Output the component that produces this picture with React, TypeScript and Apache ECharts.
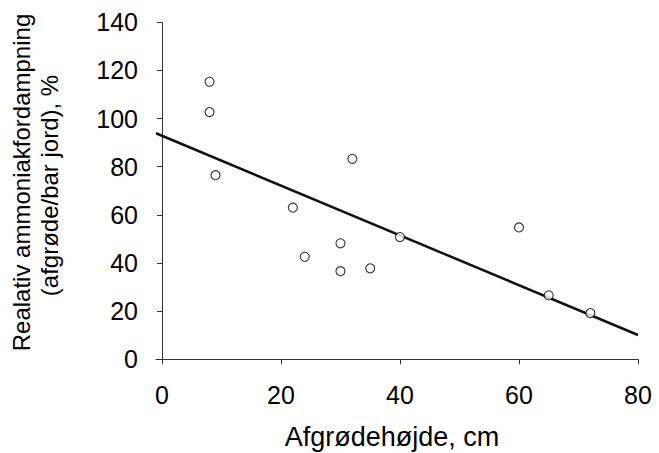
import React, { useEffect, useRef } from "react";
import * as echarts from "echarts";

// Measured points: crop height (cm) vs relative ammonia volatilisation (%)
const cropHeight = [8, 8, 9, 22, 24, 30, 30, 32, 35, 40, 60, 65, 72];
const relativeLoss = [115.3, 102.7, 76.5, 63.0, 42.6, 48.2, 36.6, 83.3, 37.8, 50.8, 54.8, 26.6, 19.2];

// Regression line end points
const trendX = [-1, 80];
const trendY = [93.9, 10.1];

const xTicks = [0, 20, 40, 60, 80];

const xTitle = "Afgrødehøjde, cm";
const yTitleLine1 = "Realativ ammoniakfordampning";
const yTitleLine2 = "(afgrøde/bar jord), %";

export default function App() {
  const ref = useRef<HTMLDivElement>(null);

  useEffect(() => {
    if (!ref.current) return;
    const chart = echarts.init(ref.current, undefined, { renderer: "svg" });
    const font = "'Liberation Sans', Arial, sans-serif";
    const axisColor = "#333";

    chart.setOption({
      animation: false,
      backgroundColor: "#fff",
      grid: { left: 156, right: 21, top: 22.3, bottom: 93.7, containLabel: false },
      xAxis: {
        type: "value",
        min: -1,
        max: 80,
        axisLine: { show: true, onZero: false, lineStyle: { color: axisColor, width: 1 } },
        axisTick: { show: true, length: 5, customValues: xTicks, lineStyle: { color: axisColor } },
        axisLabel: {
          customValues: xTicks,
          margin: 23,
          fontSize: 25,
          color: "#000",
          fontFamily: font,
        },
        splitLine: { show: false },
      },
      yAxis: {
        type: "value",
        min: 0,
        max: 140,
        interval: 20,
        axisLine: { show: true, lineStyle: { color: axisColor, width: 1 } },
        axisTick: { show: true, length: 5, lineStyle: { color: axisColor } },
        axisLabel: { margin: 18, fontSize: 25, color: "#000", fontFamily: font },
        splitLine: { show: false },
      },
      graphic: [
        {
          type: "text",
          x: 392,
          y: 437,
          style: {
            text: xTitle,
            fontSize: 27,
            fontFamily: font,
            fill: "#000",
            textAlign: "center",
            textVerticalAlign: "middle",
          },
        },
        {
          type: "text",
          x: 21,
          y: 182.5,
          rotation: Math.PI / 2,
          style: {
            text: yTitleLine1,
            fontSize: 24,
            fontFamily: font,
            fill: "#000",
            textAlign: "center",
            textVerticalAlign: "middle",
          },
        },
        {
          type: "text",
          x: 49,
          y: 185.5,
          rotation: Math.PI / 2,
          style: {
            text: yTitleLine2,
            fontSize: 24,
            fontFamily: font,
            fill: "#000",
            textAlign: "center",
            textVerticalAlign: "middle",
          },
        },
      ],
      series: [
        {
          type: "line",
          data: trendX.map((x, i) => [x, trendY[i]]),
          showSymbol: false,
          symbol: "none",
          lineStyle: { color: "#111", width: 2.5 },
          z: 2,
        },
        {
          type: "scatter",
          data: cropHeight.map((x, i) => [x, relativeLoss[i]]),
          symbol: "circle",
          symbolSize: 9,
          itemStyle: { color: "#fff", borderColor: "#000", borderWidth: 1.1 },
          z: 3,
        },
      ],
    });

    return () => chart.dispose();
  }, []);

  return (
    <div
      ref={ref}
      style={{ position: "absolute", left: 0, top: 0, width: 659, height: 453 }}
    />
  );
}
